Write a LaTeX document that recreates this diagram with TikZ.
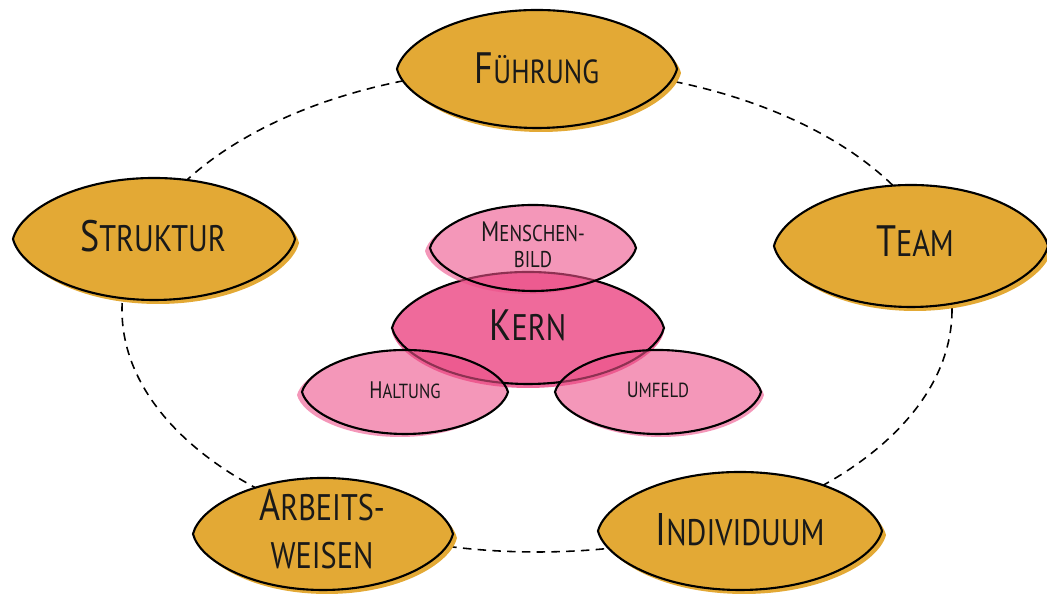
\documentclass[tikz,border=0pt]{standalone}
\usepackage{fontspec}
\setmainfont[FakeStretch=0.82]{PT Sans}
\usetikzlibrary{shapes.geometric}
\definecolor{ochre}{HTML}{E3A935}
\definecolor{pinkk}{HTML}{EF6A9B}
\definecolor{pinks}{RGB}{237,82,138}
\newcommand{\lenspath}[2]{(-#1,0) .. controls (-0.95*#1,-0.46*#2) and (-0.56*#1,-#2) .. (0,-#2) .. controls (0.56*#1,-#2) and (0.95*#1,-0.46*#2) .. (#1,0) .. controls (0.95*#1,0.46*#2) and (0.56*#1,#2) .. (0,#2) .. controls (-0.56*#1,#2) and (-0.95*#1,0.46*#2) .. (-#1,0) -- cycle}
% x y rx ry color dx
\newcommand{\lensO}[6]{%
  \fill[#5,shift={(#1+#6,#2+4)}] \lenspath{#3}{#4};
  \fill[#5,shift={(#1,#2)}] \lenspath{#3}{#4};
  \draw[outl,shift={(#1,#2)}] \lenspath{#3}{#4};}
\newcommand{\lensT}[6]{% with transparency, extra dx
  \begin{scope}[transparency group, opacity=0.6]
  \fill[#5,shift={(#1+#6,#2+3)}] \lenspath{#3}{#4};
  \fill[#5,shift={(#1,#2)}] \lenspath{#3}{#4};
  \end{scope}
  \draw[outl,shift={(#1,#2)}] \lenspath{#3}{#4};}
\newcommand{\cc}[4]{{\fontsize{#1}{#1}\selectfont #3}{\fontsize{#2}{#2}\selectfont #4}}
\tikzset{
  outl/.style={draw=black, line width=0.6pt},
  ring/.style={draw=black, line width=0.45pt, dash pattern=on 2.4pt off 1.8pt},
  lbl/.style={inner sep=0pt, align=center, text=black!90},
}
\begin{document}
\begin{tikzpicture}[x=0.01cm,y=-0.01cm]
\useasboundingbox (0,0) rectangle (1047,598);
\draw[ring] (537,310) ellipse [x radius=415, y radius=242];
% outer
\lensO{537}{69}{140}{59}{ochre}{4}
\node[lbl] (fuehrung) at (537,68) {\cc{12.5}{9.5}{F}{ÜHRUNG}};
\lensO{154}{239}{141}{61}{ochre}{4}
\node[lbl] (struktur) at (153,236) {\cc{12.5}{10.5}{S}{TRUKTUR}};
\lensO{911}{246}{137}{61}{ochre}{4}
\node[lbl] (team) at (915,241) {\cc{12.5}{10.5}{T}{EAM}};
\lensO{740}{531}{142}{59}{ochre}{4}
\node[lbl] (individuum) at (740,530) {\cc{13}{10.5}{I}{NDIVIDUUM}};
\lensO{323}{534}{130}{56}{ochre}{4}
\node[lbl, font=\fontsize{10.5}{13.7}\selectfont] (arbeitsweisen) at (322,529) {\cc{12.5}{10.5}{A}{RBEITS-}\\\cc{10.5}{10.5}{}{WEISEN}};
% core
\lensO{528}{328}{136}{56}{pinkk}{0}
\node[lbl] (kern) at (528,325) {\cc{12.5}{10.5}{K}{ERN}};
\lensT{533}{248}{103}{43}{pinks}{-5}
\node[lbl, font=\fontsize{6.5}{7.4}\selectfont] (menschenbild) at (533,245) {\cc{8}{6.5}{M}{ENSCHEN-}\\\cc{6.5}{6.5}{}{BILD}};
\lensT{405}{392}{103}{42}{pinks}{-5}
\node[lbl] (haltung) at (405,390) {\cc{6.8}{5.8}{H}{ALTUNG}};
\lensT{658}{392}{103}{42}{pinks}{3}
\node[lbl] (umfeld) at (658,390) {\cc{6.3}{5.8}{U}{MFELD}};
\end{tikzpicture}
\end{document}
